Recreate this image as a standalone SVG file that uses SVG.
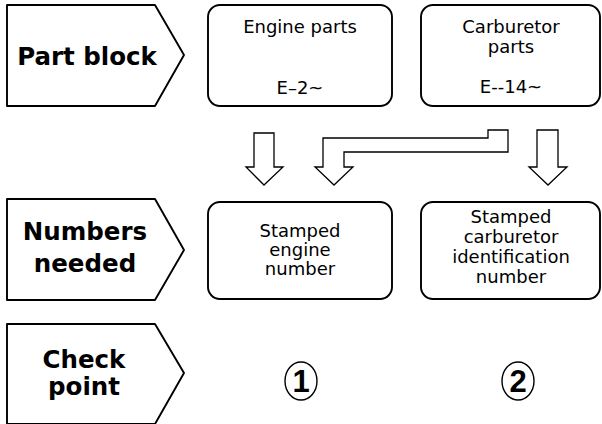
<svg xmlns="http://www.w3.org/2000/svg" width="602" height="424" viewBox="0 0 602 424">
<style>
.shape{fill:#fff;stroke:#000;stroke-width:1.9;stroke-linejoin:round}
.arrow{fill:#fff;stroke:#000;stroke-width:1.3;stroke-linejoin:miter}
.lbl{font-family:"DejaVu Sans","Liberation Sans",sans-serif;font-weight:bold;font-size:24.5px;text-anchor:middle;fill:#000}
.txt{font-family:"DejaVu Sans","Liberation Sans",sans-serif;font-size:18px;text-anchor:middle;fill:#000}
.num{font-family:"Liberation Sans Narrow","Liberation Sans",sans-serif;font-weight:bold;font-size:31px;text-anchor:middle;fill:#000}
.ring{fill:none;stroke:#000;stroke-width:1.4}
</style>
<rect width="602" height="424" fill="#fff"/>
<g id="label-part-block">
<path class="shape" d="M7,5 H155 L184,55 L155,106 H7 Z"/>
<text class="lbl" x="87" y="65">Part block</text>
</g>
<g id="label-numbers-needed">
<path class="shape" d="M7,199 H155 L184,250 L155,300 H7 Z"/>
<text class="lbl" x="85" y="240">Numbers</text>
<text class="lbl" x="85" y="272">needed</text>
</g>
<g id="label-check-point">
<path class="shape" d="M7,324 H155 L184,373 L155,424 H7 Z"/>
<text class="lbl" x="84" y="368">Check</text>
<text class="lbl" x="84" y="395">point</text>
</g>
<g id="engine-parts">
<rect class="shape" x="208" y="5" width="184" height="101" rx="12"/>
<text class="txt" x="300" y="33">Engine parts</text>
<text class="txt" x="300" y="94">E–2~</text>
</g>
<g id="carburetor-parts">
<rect class="shape" x="421" y="5" width="179" height="101" rx="12"/>
<text class="txt" x="511" y="33">Carburetor</text>
<text class="txt" x="511" y="53">parts</text>
<text class="txt" x="511" y="93">E--14~</text>
</g>
<g id="stamped-engine-number">
<rect class="shape" x="208" y="202" width="184" height="97" rx="12"/>
<text class="txt" x="300" y="237">Stamped</text>
<text class="txt" x="300" y="256">engine</text>
<text class="txt" x="300" y="275">number</text>
</g>
<g id="stamped-carburetor-id">
<rect class="shape" x="421" y="202" width="179" height="97" rx="12"/>
<text class="txt" x="511" y="223">Stamped</text>
<text class="txt" x="511" y="243">carburetor</text>
<text class="txt" x="511" y="263">identification</text>
<text class="txt" x="511" y="283">number</text>
</g>
<g id="check-1">
<ellipse class="ring" cx="301" cy="381" rx="16" ry="19"/>
<text class="num" x="301" y="392">1</text>
</g>
<g id="check-2">
<ellipse class="ring" cx="518" cy="381" rx="16" ry="19"/>
<text class="num" x="518" y="392">2</text>
</g>
<g id="connectors">
<path class="arrow" d="M254,133 H274 V167 H283 L264,185 L246,167 H254 Z"/>
<path class="arrow" d="M488,130 H508 V152 H344 V167 H353 L334,185 L315,167 H323 V138 H488 Z"/>
<path class="arrow" d="M537,130 H558 V167 H567 L548,185 L529,167 H537 Z"/>
</g>
</svg>
